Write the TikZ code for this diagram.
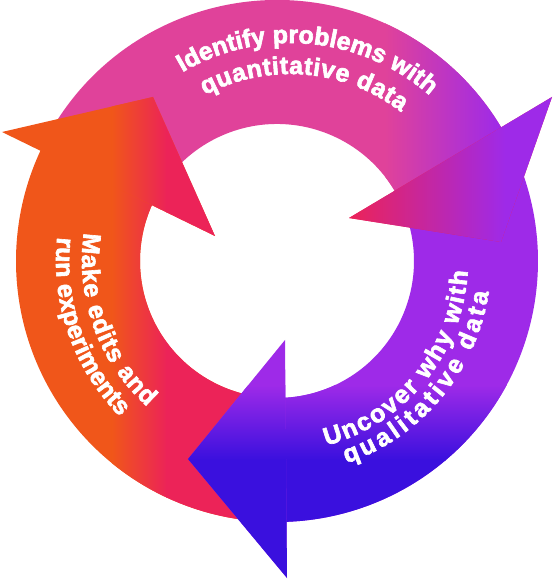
\documentclass[tikz,border=0pt]{standalone}
\usepackage{fontspec}
\newfontfamily\cyclefont{Liberation Sans}[BoldFeatures={FakeBold=2.5}]
\usetikzlibrary{decorations.text}

\definecolor{ringorange}{HTML}{F0561A}
\definecolor{ringred}{HTML}{EC2358}
\definecolor{ringpink}{HTML}{E0429A}
\definecolor{ringpurple}{HTML}{9E2AE8}
\definecolor{ringblue}{HTML}{3A10DE}

\tikzset{
  orangefill/.style={path picture={
    \fill[ringorange] (-300,-330) rectangle (300,300);
    \shade[left color=ringorange,right color=ringred] (-165,-330) rectangle (-110,300);
    \fill[ringred] (-110.5,-330) rectangle (300,300);}},
  pinkfill/.style={path picture={
    \fill[ringpink] (-300,-330) rectangle (300,300);
    \shade[left color=ringpink,right color=ringpurple] (108,-330) rectangle (223,300);
    \fill[ringpurple] (222.5,-330) rectangle (300,300);}},
  pinkheadfill/.style={path picture={
    \fill[ringred] (-300,-330) rectangle (300,300);
    \shade[left color=ringred,middle color=ringpink,right color=ringpurple] (72,-330) rectangle (228,300);
    \fill[ringpurple] (227.5,-330) rectangle (300,300);}},
  bluefill/.style={path picture={
    \fill[ringpurple] (-300,-330) rectangle (300,300);
    \shade[top color=ringpurple,bottom color=ringblue] (-300,-199) rectangle (300,-124);
    \fill[ringblue] (-300,-330) rectangle (300,-198.5);}},
  ringlabel/.style={decorate, decoration={text along path,
    text={|\cyclefont\bfseries\fontsize{25}{25}\selectfont|#1},
    text align=fit to path, text color=white}},
}

\begin{document}
\begin{tikzpicture}[x=1pt,y=1pt]
\useasboundingbox (-277,-319) rectangle (277,261);

% the three bands
\path[orangefill] (265:261) arc[start angle=265,end angle=150,radius=261]
  -- (150:137) arc[start angle=150,end angle=265,radius=137] -- cycle;
\path[pinkfill] (150:261) arc[start angle=150,end angle=26,radius=261]
  -- (26:137) arc[start angle=26,end angle=150,radius=137] -- cycle;
\path[bluefill] (26:261) arc[start angle=26,end angle=-88,radius=261]
  -- (-88:137) arc[start angle=-88,end angle=26,radius=137] -- cycle;

% heads
\path[orangefill] (-275,129) -- (-124,164) -- (-62,25) -- cycle;
\path[pinkheadfill] (275,164) -- (224,19) -- (72,43) -- cycle;
\path[bluefill] (10,-317) -- (-89,-198) -- (8,-79) -- cycle;

% labels
\path[shift={(13,6)}, ringlabel={Identify problems with}]
  (120.5:212) arc[start angle=120.5,end angle=49.6,radius=212];
\path[shift={(13,6)}, ringlabel={quantitative data}]
  (118:181) arc[start angle=118,end angle=52.2,radius=181];
\path[ringlabel={Make edits and}]
  (171.7:195) arc[start angle=171.7,end angle=228.3,radius=195];
\path[ringlabel={run experiments}]
  (173.8:221) arc[start angle=173.8,end angle=224.8,radius=221];
\path[ringlabel={Uncover why with}]
  (-75:191) arc[start angle=-75,end angle=-3,radius=191];
\path[ringlabel={qualitative data}]
  (-71:214) arc[start angle=-71,end angle=-8.4,radius=214];
\end{tikzpicture}
\end{document}
